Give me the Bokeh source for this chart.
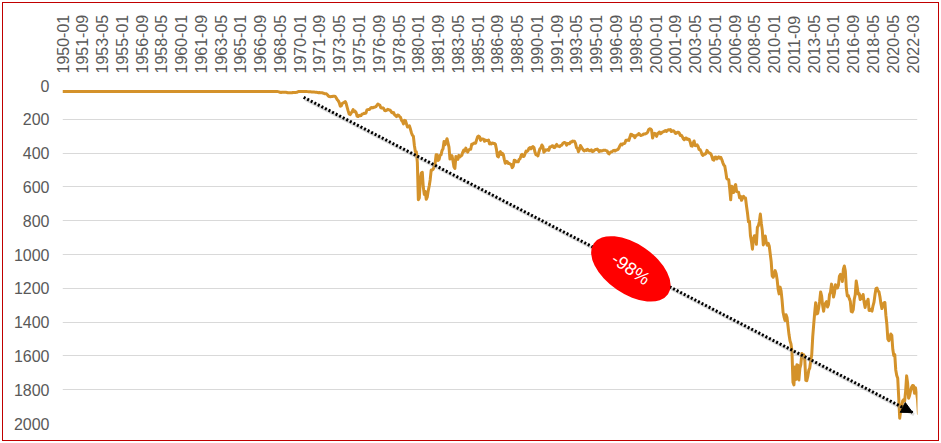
import math
from bokeh.plotting import figure
from bokeh.models import Range1d, FixedTicker, Arrow, NormalHead
from bokeh.embed import file_html
from bokeh.resources import INLINE
from bokeh.core.properties import value

# ---------------- data (gold price, monthly) ----------------
tick_labels = ["1950-01", "1951-09", "1953-05", "1955-01", "1956-09", "1958-05", "1960-01",
               "1961-09", "1963-05", "1965-01", "1966-09", "1968-05", "1970-01", "1971-09",
               "1973-05", "1975-01", "1976-09", "1978-05", "1980-01", "1981-09", "1983-05",
               "1985-01", "1986-09", "1988-05", "1990-01", "1991-09", "1993-05", "1995-01",
               "1996-09", "1998-05", "2000-01", "2001-09", "2003-05", "2005-01", "2006-09",
               "2008-05", "2010-01", "2011-09", "2013-05", "2015-01", "2016-09", "2018-05",
               "2020-05", "2022-03"]
label_every = 20  # category interval between axis labels

early_dates = ["1950-01", "1955-01", "1960-01", "1965-01", "1967-12"]
early_vals = [35.0, 35.0, 35.0, 35.0, 35.0]

start_1968 = "1968-01"
vals_1968_1979 = [
    35.0, 35.0, 36.5, 38.0, 40.5, 41.0, 39.5, 39.2, 39.5, 39.3, 40.0, 41.0,
    42.5, 43.0, 43.5, 43.3, 43.5, 41.3, 41.8, 41.5, 40.8, 40.5, 37.5, 35.2,
    34.9, 35.0, 35.1, 35.6, 35.9, 35.4, 35.3, 35.4, 36.2, 37.5, 37.4, 37.4,
    37.9, 38.7, 38.9, 39.0, 40.5, 40.1, 41.0, 42.7, 42.0, 42.5, 42.9, 43.5,
    45.8, 48.3, 48.3, 49.0, 54.6, 62.1, 65.7, 67.0, 65.5, 64.9, 62.9, 63.9,
    65.1, 74.2, 84.4, 90.5, 102.0, 122.5, 120.0, 106.8, 102.8, 100.1, 94.8, 106.7,
    129.2, 150.2, 168.4, 172.2, 163.3, 154.1, 143.0, 154.6, 151.8, 158.8, 181.7, 183.9,
    176.3, 179.6, 178.2, 170.0, 167.6, 164.8, 165.2, 163.0, 144.1, 142.7, 142.2, 139.3,
    131.4, 130.6, 132.6, 128.3, 128.2, 125.6, 117.8, 109.6, 114.2, 116.1, 130.6, 133.6,
    132.3, 136.3, 148.3, 149.2, 146.8, 140.8, 143.4, 144.8, 149.5, 158.9, 162.2, 160.5,
    173.2, 178.2, 183.7, 175.1, 176.3, 183.4, 188.8, 206.1, 212.1, 227.3, 206.1, 207.8,
    227.3, 245.7, 242.1, 239.2, 257.6, 279.1, 294.7, 300.8, 355.1, 391.7, 392.5, 455.1,
]

start_1980 = "1980-01"
vals_1980_1989 = [
    675.3, 665.3, 553.6, 517.4, 513.8, 600.7, 644.3, 627.2, 673.6, 661.1, 623.5, 594.9,
    557.5, 500.2, 499.8, 495.8, 479.7, 460.8, 409.3, 410.1, 443.2, 437.7, 413.3, 410.1,
    384.2, 374.2, 330.8, 350.5, 333.9, 314.9, 339.2, 364.3, 435.6, 422.8, 414.9, 444.3,
    480.8, 491.1, 419.9, 432.8, 437.4, 413.3, 422.4, 416.6, 412.6, 393.9, 381.4, 388.2,
    370.7, 386.2, 394.4, 381.6, 377.7, 377.7, 348.2, 347.7, 341.1, 340.2, 341.2, 320.2,
    302.8, 299.1, 303.9, 324.6, 316.5, 316.6, 317.6, 330.0, 323.1, 325.7, 325.3, 322.4,
    345.5, 338.9, 345.4, 340.4, 342.5, 342.8, 348.5, 376.6, 417.8, 423.2, 398.2, 391.3,
    408.3, 401.1, 408.9, 438.4, 460.2, 449.0, 451.0, 461.5, 460.2, 465.4, 467.6, 486.3,
    477.8, 442.1, 443.6, 451.7, 451.5, 451.8, 437.2, 432.8, 413.4, 406.8, 420.2, 418.6,
    404.1, 388.0, 390.2, 384.3, 371.0, 367.6, 375.0, 365.4, 361.8, 366.9, 394.3, 409.4,
]

start_1990 = "1990-01"
vals_1990_1999 = [
    410.1, 416.8, 393.1, 374.4, 369.2, 352.3, 361.2, 394.8, 389.2, 380.8, 381.9, 378.2,
    383.6, 363.8, 363.3, 358.4, 356.8, 366.7, 367.7, 356.4, 348.7, 358.7, 359.6, 361.7,
    354.5, 353.9, 344.3, 338.6, 337.2, 340.8, 353.1, 342.9, 345.4, 344.4, 335.0, 334.8,
    329.0, 329.3, 330.1, 342.2, 367.2, 371.9, 392.0, 378.7, 355.3, 364.2, 373.8, 383.3,
    387.0, 382.0, 384.0, 377.3, 381.4, 385.6, 385.5, 380.4, 391.6, 389.8, 384.4, 379.3,
    378.6, 376.5, 382.1, 391.0, 385.2, 387.6, 386.2, 383.7, 383.1, 383.0, 385.5, 387.5,
    399.5, 404.8, 396.2, 392.9, 392.0, 385.3, 383.5, 387.5, 383.1, 381.1, 377.9, 369.3,
    355.0, 346.6, 351.8, 344.5, 343.8, 340.8, 324.1, 324.0, 322.8, 324.9, 306.0, 288.7,
    289.3, 297.4, 295.9, 308.4, 299.1, 292.3, 292.9, 284.1, 289.0, 296.1, 294.1, 291.6,
    287.1, 287.3, 285.9, 282.6, 276.4, 261.3, 256.2, 256.7, 264.7, 310.7, 293.2, 283.1,
]

start_2000 = "2000-01"
vals_2000_2009 = [
    284.6, 300.9, 286.4, 280.0, 275.3, 285.7, 281.6, 274.5, 273.7, 270.0, 266.0, 272.0,
    265.5, 261.9, 263.0, 260.5, 272.4, 270.2, 267.5, 272.4, 283.4, 283.1, 276.2, 275.9,
    281.7, 295.5, 294.0, 302.7, 314.5, 321.2, 313.3, 310.3, 319.2, 316.6, 319.2, 333.4,
    356.9, 359.0, 340.6, 328.2, 355.7, 356.4, 351.0, 359.8, 378.9, 378.9, 389.9, 407.6,
    414.0, 405.3, 406.7, 403.0, 383.8, 392.4, 398.1, 400.5, 405.3, 420.5, 439.4, 442.1,
    424.0, 423.4, 434.2, 429.2, 421.9, 430.7, 424.5, 437.9, 456.0, 469.9, 476.7, 509.8,
    549.9, 555.0, 557.1, 610.6, 676.5, 596.2, 633.8, 632.6, 598.2, 585.8, 627.8, 629.8,
    631.2, 664.8, 654.9, 679.4, 666.9, 655.5, 665.3, 665.4, 712.7, 754.6, 806.3, 803.2,
    889.6, 922.3, 968.4, 909.7, 888.7, 889.5, 939.8, 839.0, 829.9, 806.6, 760.9, 816.1,
    858.7, 943.2, 924.3, 890.2, 928.6, 945.7, 934.2, 949.4, 996.6, 1043.2, 1127.0, 1134.7,
]

start_2010 = "2010-01"
vals_2010_2022 = [
    1118.0, 1095.4, 1113.3, 1148.7, 1205.4, 1232.9, 1193.0, 1215.8, 1271.0, 1342.0, 1369.9, 1390.6,
    1356.4, 1372.7, 1424.0, 1473.8, 1510.4, 1528.7, 1572.8, 1755.8, 1771.9, 1665.2, 1739.0, 1652.3,
    1656.1, 1742.6, 1673.8, 1649.7, 1585.5, 1596.7, 1593.9, 1626.0, 1744.5, 1747.0, 1721.6, 1684.8,
    1671.9, 1627.6, 1593.1, 1487.9, 1414.0, 1343.4, 1285.5, 1351.7, 1348.6, 1316.6, 1275.9, 1221.5,
    1244.3, 1301.0, 1336.1, 1299.0, 1287.5, 1279.1, 1310.6, 1295.1, 1236.6, 1222.5, 1175.3, 1200.6,
    1251.8, 1227.1, 1178.6, 1198.9, 1198.6, 1181.5, 1128.3, 1117.9, 1124.8, 1159.3, 1086.4, 1068.3,
    1097.9, 1199.5, 1245.1, 1242.3, 1261.0, 1276.4, 1337.4, 1340.2, 1326.6, 1266.6, 1238.4, 1157.4,
    1192.1, 1234.2, 1231.4, 1266.9, 1246.0, 1260.3, 1236.8, 1283.0, 1314.1, 1279.5, 1281.9, 1264.5,
    1331.3, 1330.7, 1324.7, 1334.8, 1303.5, 1281.6, 1238.0, 1201.7, 1198.4, 1215.4, 1220.7, 1250.4,
    1291.8, 1320.1, 1300.9, 1285.9, 1283.7, 1359.0, 1412.9, 1500.4, 1510.6, 1495.8, 1470.8, 1479.1,
    1560.7, 1597.1, 1591.9, 1683.2, 1715.9, 1732.2, 1846.5, 1968.6, 1921.9, 1900.3, 1866.3, 1858.4,
    1867.0, 1808.2, 1718.2, 1760.0, 1850.3, 1834.6, 1807.8, 1785.3, 1775.1, 1776.6, 1820.6, 1788.8,
    1816.0, 1856.3, 1948.0,
]

annotation_text = "-98%"
arrow_from = (244, 70)     # (month index, value)
arrow_to = (860, 1935)
badge_at = (575, 1085)

# ---------------- build series ----------------
def month_index(d):
    y, m = d.split("-")
    return (int(y) - 1950) * 12 + int(m) - 1

xs, ys = [], []
for d, v in zip(early_dates, early_vals):
    xs.append(month_index(d)); ys.append(v)
for start, vals in [(start_1968, vals_1968_1979), (start_1980, vals_1980_1989),
                    (start_1990, vals_1990_1999), (start_2000, vals_2000_2009),
                    (start_2010, vals_2010_2022)]:
    s = month_index(start)
    for i, v in enumerate(vals):
        xs.append(s + i); ys.append(v)

tick_pos = [i * label_every for i in range(len(tick_labels))]

# ---------------- figure ----------------
p = figure(width=941, height=443, x_range=Range1d(0, 865), y_range=Range1d(2000, 0),
           x_axis_location="above", output_backend="svg", toolbar_location=None,
           min_border_left=62, min_border_right=24, min_border_top=85, min_border_bottom=20)
p.outline_line_color = None
p.background_fill_color = "white"
p.border_fill_color = None
# red frame around the chart (inset, drawn behind the transparent canvas border area)
p.styles = {"background-color": "white",
            "box-shadow": "inset 0 0 0 2px white, inset 0 0 0 3px #C00000"}

p.xgrid.visible = False
p.ygrid.grid_line_color = "#D9D9D9"
p.ygrid.grid_line_width = 1

p.xaxis.ticker = FixedTicker(ticks=tick_pos)
p.xaxis.major_label_overrides = {t: lab for t, lab in zip(tick_pos, tick_labels)}
p.xaxis.major_label_orientation = math.pi / 2
p.yaxis.ticker = FixedTicker(ticks=list(range(0, 2001, 200)))

for ax in (p.xaxis[0], p.yaxis[0]):
    ax.axis_line_color = None
    ax.major_tick_line_color = None
    ax.minor_tick_line_color = None
    ax.major_tick_out = 0
    ax.major_tick_in = 0
    ax.minor_tick_out = 0
    ax.minor_tick_in = 0
    ax.major_label_text_font = "Liberation Sans"
    ax.major_label_text_font_size = "16px"
    ax.major_label_text_color = "#595959"
p.xaxis.major_label_standoff = 12
p.yaxis.major_label_standoff = 13

p.line(xs, ys, line_color="#D4922A", line_width=3, line_join="round")

# trend arrow: soft shadow, dotted body, head
p.line([arrow_from[0] + 1.5, arrow_to[0] + 1.5], [arrow_from[1] + 12, arrow_to[1] + 12],
       line_color="#9A9A9A", line_alpha=0.35, line_width=3)
p.line([arrow_from[0], arrow_to[0]], [arrow_from[1], arrow_to[1]],
       line_color="black", line_width=3, line_dash="2 2")
p.add_layout(Arrow(end=NormalHead(size=11, fill_color="black", line_color="black"),
                   x_start=arrow_from[0], y_start=arrow_from[1],
                   x_end=arrow_to[0], y_end=arrow_to[1], line_color=None))

p.ellipse(x=[badge_at[0]], y=[badge_at[1]], width=90, height=50, angle=-0.6,
          width_units="screen", height_units="screen",
          fill_color="#FF0000", line_color=None)
p.text(x=[badge_at[0]], y=[badge_at[1]], text=[annotation_text], angle=-0.6,
       text_font=value("Liberation Sans"), text_font_size="18px", text_color="white",
       text_align="center", text_baseline="middle")

open("out.html", "w").write(file_html(p, INLINE))
